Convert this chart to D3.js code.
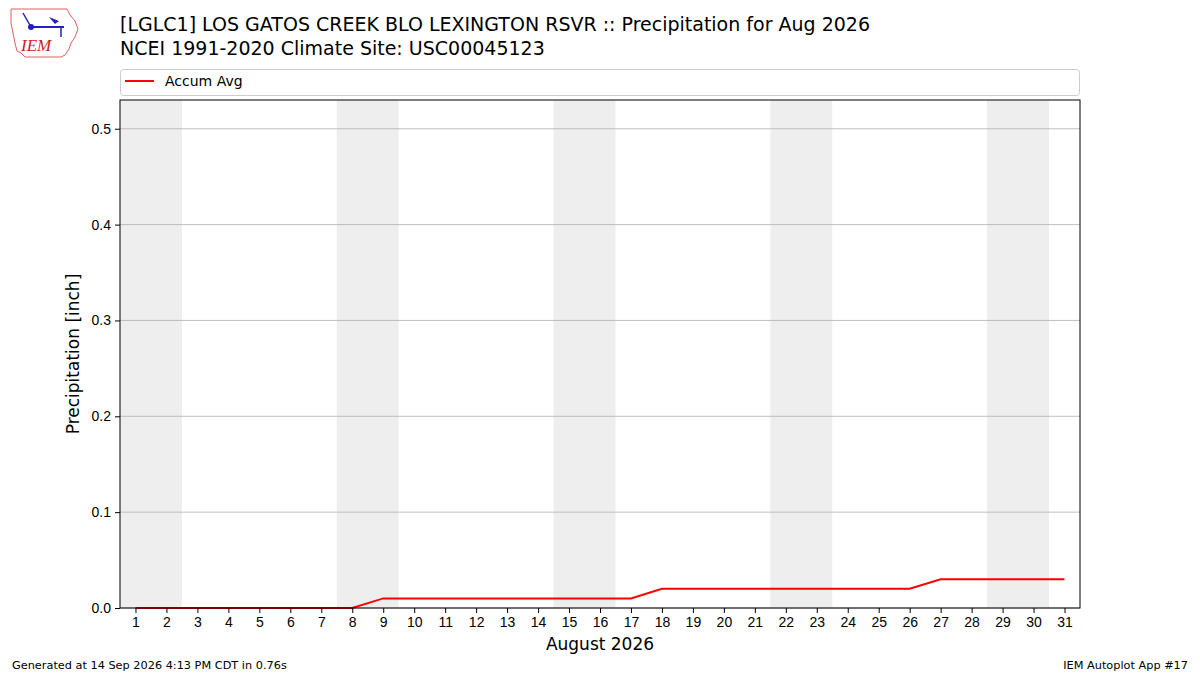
<!DOCTYPE html>
<html lang="en">
<head>
<meta charset="utf-8">
<title>Precipitation for Aug 2026</title>
<script src="https://d3js.org/d3.v7.min.js"></script>
<style>
  body { margin: 0; background: #fff; }
  svg { font-family: "DejaVu Sans", sans-serif; }
  .tick text { font-size: 14px; fill: #000; }
  .grid line { stroke: #b0b0b0; stroke-width: 0.8; }
</style>
</head>
<body>
<script>
// chart data
var days = d3.range(1, 32);
var accumAvg = [0, 0, 0, 0, 0, 0, 0, 0,
  0.01, 0.01, 0.01, 0.01, 0.01, 0.01, 0.01, 0.01, 0.01,
  0.02, 0.02, 0.02, 0.02, 0.02, 0.02, 0.02, 0.02, 0.02,
  0.03, 0.03, 0.03, 0.03, 0.03];
var weekends = [[1, 2], [8, 9], [15, 16], [22, 23], [29, 30]];
var yTicks = [0, 0.1, 0.2, 0.3, 0.4, 0.5];

var width = 1200, height = 675;
// plot box (avoid "top", which is window.top)
var plotL = 120, plotR = 1080, plotT = 100, plotB = 608;

var svg = d3.select("body").append("svg")
  .attr("width", width)
  .attr("height", height);

var x = d3.scaleLinear().domain([0.5, 31.5]).range([plotL, plotR]);
var y = d3.scaleLinear().domain([0, 0.53]).range([plotB, plotT]);

// weekend shading
svg.selectAll("rect.wknd")
  .data(weekends)
  .enter().append("rect")
  .attr("class", "wknd")
  .attr("x", d => x(d[0] - 0.5))
  .attr("width", d => x(d[1] + 0.5) - x(d[0] - 0.5))
  .attr("y", plotT)
  .attr("height", plotB - plotT)
  .attr("fill", "#eeeeee");

// horizontal grid
svg.append("g")
  .attr("class", "grid")
  .selectAll("line")
  .data(yTicks)
  .enter().append("line")
  .attr("x1", plotL).attr("x2", plotR)
  .attr("y1", d => y(d)).attr("y2", d => y(d));

// line
var line = d3.line()
  .x((d, i) => x(days[i]))
  .y(d => y(d));

svg.append("path")
  .datum(accumAvg)
  .attr("d", line)
  .attr("fill", "none")
  .attr("stroke", "#ff0000")
  .attr("stroke-width", 2);

// frame
svg.append("rect")
  .attr("x", plotL).attr("y", plotT)
  .attr("width", plotR - plotL).attr("height", plotB - plotT)
  .attr("fill", "none")
  .attr("stroke", "#000")
  .attr("stroke-width", 1);

// axes
var xAxis = svg.append("g")
  .attr("transform", "translate(0," + plotB + ")")
  .call(d3.axisBottom(x).tickValues(days).tickFormat(d3.format("d")).tickSize(5).tickPadding(4));
xAxis.select(".domain").remove();

var yAxis = svg.append("g")
  .attr("transform", "translate(" + plotL + ",0)")
  .call(d3.axisLeft(y).tickValues(yTicks).tickFormat(d3.format(".1f")).tickSize(5).tickPadding(4));
yAxis.select(".domain").remove();

// axis labels
svg.append("text")
  .attr("x", (plotL + plotR) / 2)
  .attr("y", 650)
  .attr("text-anchor", "middle")
  .style("font-size", "17px")
  .text("August 2026");

svg.append("text")
  .attr("transform", "translate(79," + ((plotT + plotB) / 2) + ") rotate(-90)")
  .attr("text-anchor", "middle")
  .style("font-size", "17px")
  .text("Precipitation [inch]");

// titles
svg.append("text")
  .attr("x", 120).attr("y", 31)
  .style("font-size", "19px")
  .text("[LGLC1] LOS GATOS CREEK BLO LEXINGTON RSVR :: Precipitation for Aug 2026");
svg.append("text")
  .attr("x", 120).attr("y", 55)
  .style("font-size", "19px")
  .text("NCEI 1991-2020 Climate Site: USC00045123");

// legend
svg.append("rect")
  .attr("x", 120.5).attr("y", 69.5)
  .attr("width", 959).attr("height", 26)
  .attr("rx", 3)
  .attr("fill", "#fff")
  .attr("stroke", "#cccccc");
svg.append("line")
  .attr("x1", 125).attr("x2", 154)
  .attr("y1", 81).attr("y2", 81)
  .attr("stroke", "#ff0000").attr("stroke-width", 2);
svg.append("text")
  .attr("x", 165).attr("y", 86)
  .style("font-size", "14px")
  .text("Accum Avg");

// footer
svg.append("text")
  .attr("x", 12).attr("y", 669)
  .style("font-size", "11.3px")
  .text("Generated at 14 Sep 2026 4:13 PM CDT in 0.76s");
svg.append("text")
  .attr("x", 1188).attr("y", 669)
  .attr("text-anchor", "end")
  .style("font-size", "11.3px")
  .text("IEM Autoplot App #17");

// logo (simplified)
var logo = svg.append("g").attr("transform", "translate(9,7)");
logo.append("path")
  .attr("d", "M2,2 L58,2 L61,8 L66,14 L69,22 L66,30 L62,36 L60,42 L56,48 L52,50 L16,50 L12,46 L8,44 L6,36 L4,26 L2,16 Z")
  .attr("fill", "#fff")
  .attr("stroke", "#e06060")
  .attr("stroke-width", 1);
logo.append("line").attr("x1", 22).attr("x2", 55).attr("y1", 20).attr("y2", 20)
  .attr("stroke", "#2020c0").attr("stroke-width", 2);
logo.append("circle").attr("cx", 22).attr("cy", 20).attr("r", 3).attr("fill", "#2020c0");
logo.append("path").attr("d", "M14,6 L22,20").attr("stroke", "#2020c0").attr("stroke-width", 1.5);
logo.append("path").attr("d", "M40,10 L50,14 L46,17 Z").attr("fill", "#2020c0");
logo.append("path").attr("d", "M52,20 L52,30").attr("stroke", "#2020c0").attr("stroke-width", 1.5);
logo.append("text")
  .attr("x", 12).attr("y", 44)
  .style("font-family", "'Liberation Serif', serif")
  .style("font-style", "italic")
  .style("font-size", "17px")
  .attr("fill", "#d02020")
  .text("IEM");
</script>
</body>
</html>
